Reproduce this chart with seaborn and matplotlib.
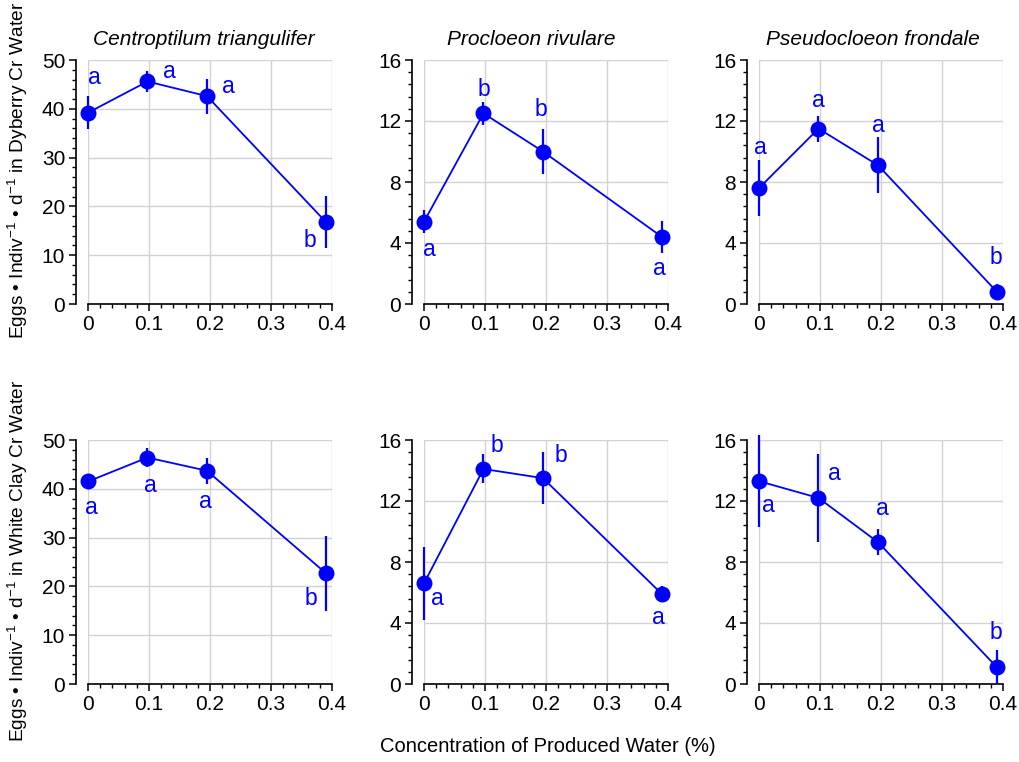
import matplotlib
matplotlib.use("Agg")
import matplotlib.pyplot as plt
from matplotlib.ticker import MultipleLocator
import pandas as pd
import seaborn as sns

# concentration of produced water (%)
conc = [0, 0.0975, 0.195, 0.39]

species = ["Centroptilum triangulifer", "Procloeon rivulare", "Pseudocloeon frondale"]
waters = ["Dyberry Cr", "White Clay Cr"]
x_ticks = [0, 0.1, 0.2, 0.3, 0.4]
x_ticklabels = ["0", "0.1", "0.2", "0.3", "0.4"]

# Dyberry Cr water
dy_cent = [39.2, 45.6, 42.6, 16.8]
dy_cent_err = [3.4, 2.2, 3.6, 5.4]
dy_cent_sig = ["a", "a", "a", "b"]
dy_proc = [5.4, 12.5, 10.0, 4.4]
dy_proc_err = [0.75, 0.77, 1.45, 1.03]
dy_proc_sig = ["a", "b", "b", "a"]
dy_pseu = [7.6, 11.5, 9.1, 0.8]
dy_pseu_err = [1.85, 0.85, 1.85, 0.5]
dy_pseu_sig = ["a", "a", "a", "b"]

# White Clay Cr water
wc_cent = [41.5, 46.4, 43.7, 22.7]
wc_cent_err = [0.8, 1.9, 2.7, 7.7]
wc_cent_sig = ["a", "a", "a", "b"]
wc_proc = [6.6, 14.1, 13.5, 5.9]
wc_proc_err = [2.4, 0.95, 1.7, 0.5]
wc_proc_sig = ["a", "b", "b", "a"]
wc_pseu = [13.3, 12.2, 9.3, 1.1]
wc_pseu_err = [3.0, 2.9, 0.85, 1.1]
wc_pseu_sig = ["a", "a", "a", "b"]

y_max = [50, 16, 16]
y_major = [10, 4, 4]
y_minor = [2, 0.8, 0.8]

rows = [
    [(dy_cent, dy_cent_err, dy_cent_sig), (dy_proc, dy_proc_err, dy_proc_sig), (dy_pseu, dy_pseu_err, dy_pseu_sig)],
    [(wc_cent, wc_cent_err, wc_cent_sig), (wc_proc, wc_proc_err, wc_proc_sig), (wc_pseu, wc_pseu_err, wc_pseu_sig)],
]

# letter offsets from the point, in pixels (dx, dy up)
lab_off = [
    [[(6, 35), (22, 10), (21, 10), (-16, -18)],
     [(5, -28), (0, 24), (-2, 42), (-3, -32)],
     [(1, 41), (0, 28), (0, 40), (-1, 34)]],
    [[(3, -26), (3, -28), (-2, -31), (-15, -25)],
     [(13, -15), (13, 23), (18, 23), (-4, -23)],
     [(9, -24), (16, 24), (4, 34), (-1, 35)]],
]

sns.set_style("white")
plt.rcParams["font.family"] = ["Liberation Sans", "DejaVu Sans"]
plt.rcParams["mathtext.fontset"] = "custom"
plt.rcParams["mathtext.rm"] = "Liberation Sans"
plt.rcParams["mathtext.it"] = "Liberation Sans:italic"
plt.rcParams["text.color"] = "black"
plt.rcParams["axes.labelcolor"] = "black"

blue = "#0000ff"
fig = plt.figure(figsize=(10.19, 7.62), dpi=100)

lefts = [88, 424, 759]
bottoms = [304, 684]
title_x = [0.475, 0.439, 0.467]
W, H = 1019, 762

for r in range(2):
    for c in range(3):
        ax = fig.add_axes([lefts[c] / W, (H - bottoms[r]) / H, 244 / W, 244 / H])
        vals, err, sig = rows[r][c]
        df = pd.DataFrame({"conc": conc, "eggs": vals})
        sns.lineplot(data=df, x="conc", y="eggs", ax=ax, color=blue, lw=1.3,
                     marker="o", markersize=11.5, markeredgewidth=0, zorder=4)
        for ln in ax.lines:
            ln.set_clip_on(False)
        eb = ax.errorbar(conc, vals, yerr=err, fmt="none", ecolor=blue, elinewidth=1.6,
                         capsize=0, zorder=3)
        for art in eb.lines[2]:
            art.set_clip_on(False)
        for i, s in enumerate(sig):
            dx, dy = lab_off[r][c][i]
            ax.annotate(s, (conc[i], vals[i]), xytext=(dx * 0.72, dy * 0.72),
                        textcoords="offset points", ha="center", va="center",
                        color=blue, fontsize=16.5)
        ax.set_xticks(x_ticks)
        ax.set_xticklabels(x_ticklabels)
        yt = [k * y_major[c] for k in range(int(y_max[c] / y_major[c]) + 1)]
        ax.set_yticks(yt)
        ax.set_yticklabels([str(v) for v in yt])
        ax.xaxis.set_minor_locator(MultipleLocator(0.02))
        ax.yaxis.set_minor_locator(MultipleLocator(y_minor[c]))
        ax.set_xlim(0, 0.4)
        ax.set_ylim(0, y_max[c])
        ax.grid(True, which="major", color="#d2d2d2", lw=1.0)
        ax.set_axisbelow(True)
        for sp in ["top", "right"]:
            ax.spines[sp].set_visible(False)
        ax.spines["left"].set_position(("outward", 8.4))
        for sp in ["left", "bottom"]:
            ax.spines[sp].set_color("black")
            ax.spines[sp].set_linewidth(1.2)
        ax.tick_params(which="major", direction="out", length=5, width=1.1,
                       labelsize=15, colors="black", left=True, bottom=True, pad=3)
        ax.tick_params(which="minor", direction="out", length=3, width=1.0,
                       left=True, bottom=True, colors="black")
        ax.set_xlabel("")
        ax.set_ylabel("")
        if r == 0:
            ax.set_title(species[c], style="italic", fontsize=15, x=title_x[c], pad=11,
                         color="black")

for r, water in enumerate(waters):
    yc = [170, 561][r]
    fig.text(18 / W, 1 - yc / H,
             "Eggs • Indiv$^{\\mathrm{-1}}$ • d$^{\\mathrm{-1}}$ in " + water + " Water",
             rotation=90, ha="center", va="center", fontsize=13.8, color="black")

fig.text(548 / W, 1 - 747 / H, "Concentration of Produced Water (%)",
         ha="center", va="center", fontsize=14.5, color="black")

fig.savefig("out.png", dpi=100)
